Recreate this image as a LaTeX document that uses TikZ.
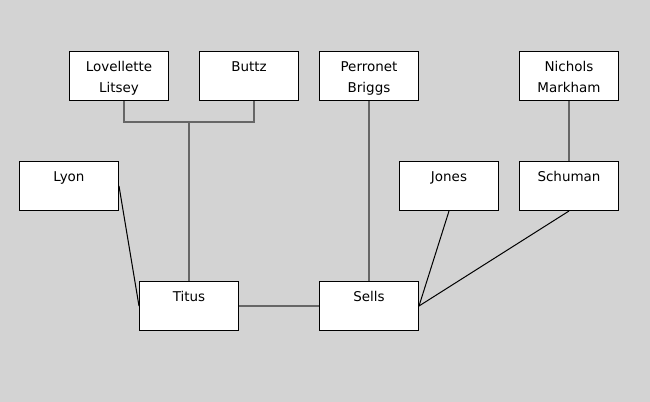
\documentclass[tikz,border=0pt]{standalone}
\usepackage{fontspec}
\setmainfont{DejaVu Sans}
\definecolor{bggray}{HTML}{D3D3D3}
\definecolor{linkgray}{HTML}{666666}
\begin{document}
\begin{tikzpicture}[
    x=0.75pt, y=-0.75pt,
    person/.style={rectangle, draw, fill=white, line width=0.75pt, inner sep=0pt, anchor=north west,
        text width=74.25pt, align=center, text height=15pt, text depth=21.75pt,
        font=\fontsize{10.1}{15.75}\selectfont},
    link/.style={draw=linkgray, line width=1.5pt},
    thin link/.style={draw=black, line width=0.75pt}
]

% background
\fill[bggray] (0,0) rectangle (650,402);

% top row
\node[person] (lovellette) at (69,51) {Lovellette\\Litsey};
\node[person] (buttz) at (199,51) {Buttz};
\node[person] (perronet) at (319,51) {Perronet\\Briggs};
\node[person] (nichols) at (519,51) {Nichols\\Markham};

% middle row
\node[person] (lyon) at (19,161) {Lyon};
\node[person] (jones) at (399,161) {Jones};
\node[person] (schuman) at (519,161) {Schuman};

% bottom row
\node[person] (titus) at (139,281) {Titus};
\node[person] (sells) at (319,281) {Sells};

% parents
\draw[link] ([xshift=3.75pt]lovellette.south) -- ++(0,21) coordinate (lb) -| ([xshift=3.75pt]buttz.south);
\draw[link] (titus.north) -- (titus.north |- lb);
\draw[link] (perronet.south) -- (sells.north);
\draw[link] (nichols.south) -- (schuman.north);
\draw[link] (titus.east) -- (sells.west);

% other links
\draw[thin link] (lyon.east) -- (titus.west);
\draw[thin link] (jones.south) -- (sells.east);
\draw[thin link] (schuman.south) -- (sells.east);

\end{tikzpicture}
\end{document}
